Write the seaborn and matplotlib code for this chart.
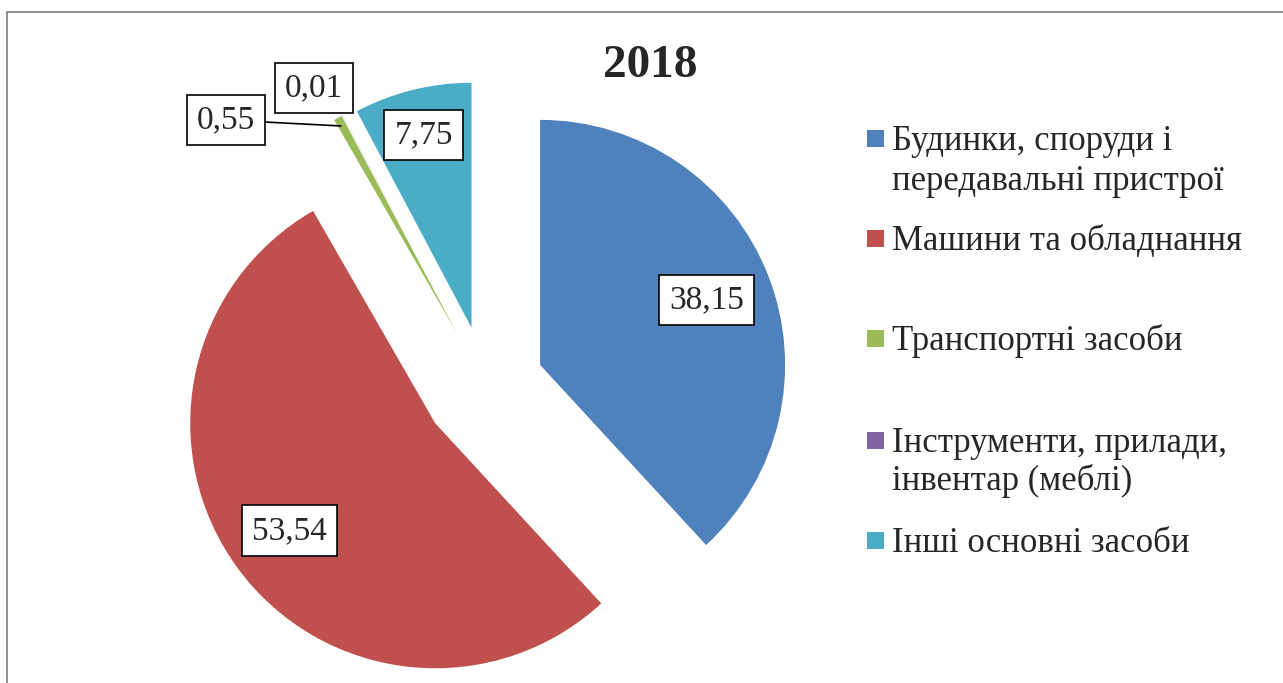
import matplotlib
matplotlib.use("Agg")
import matplotlib.pyplot as plt
from matplotlib.patches import Rectangle
import numpy as np
import seaborn as sns

# data
categories = [
    "Будинки, споруди і\nпередавальні пристрої",
    "Машини та обладнання",
    "Транспортні засоби",
    "Інструменти, прилади,\nінвентар (меблі)",
    "Інші основні засоби",
]
shares = [38.15, 53.54, 0.55, 0.01, 7.75]
value_labels = ["38,15", "53,54", "0,55", "0,01", "7,75"]
title = "2018"

colors = ["#4F81BD", "#C0504D", "#9BBB59", "#8064A2", "#4BACC6"]

sns.set_theme(style="white")
plt.rcParams["font.family"] = ["Liberation Serif", "DejaVu Serif"]

W, H = 1283, 683
fig = plt.figure(figsize=(W / 100, H / 100), dpi=100)
fig.patch.set_facecolor("white")
ax = fig.add_axes([0, 0, 1, 1])

# pixel-like data space, y pointing up
radius = 245
center = (486, H - 386)
explode = [r * radius for r in (0.237, 0.257, 0.25, 0.25, 0.245)]

wedges, _ = ax.pie(shares, colors=colors, startangle=90, counterclock=False,
                   radius=radius, center=center, explode=explode,
                   wedgeprops=dict(linewidth=0))

ax.set_xlim(0, W)
ax.set_ylim(0, H)
ax.set_aspect("equal")
ax.axis("off")

box = dict(boxstyle="square,pad=0.3", fc="white", ec="black", lw=1.2)


def wedge_point(w, frac):
    ang = np.deg2rad((w.theta1 + w.theta2) / 2)
    cx, cy = w.center
    return cx + frac * w.r * np.cos(ang), cy + frac * w.r * np.sin(ang)


# inside labels
for i, frac in [(0, 0.73), (1, 0.74), (4, 0.81)]:
    x, y = wedge_point(wedges[i], frac)
    ax.text(x, y, value_labels[i], ha="center", va="center", fontsize=24, bbox=box)

# small slices: labels outside
tip_x, tip_y = wedge_point(wedges[2], 1.0)
ax.annotate(value_labels[2], xy=(tip_x + 3, tip_y - 8), xytext=(226, H - 120),
            ha="center", va="center", fontsize=24, bbox=box,
            arrowprops=dict(arrowstyle="-", color="black", lw=1.2, shrinkA=0, shrinkB=0))
ax.text(314, H - 88, value_labels[3], ha="center", va="center", fontsize=24, bbox=box)

# title
ax.text(650, H - 77, title, ha="center", va="baseline", fontsize=34, fontweight="bold")

# legend, laid out like the original
baselines = [[150, 190], [250], [350], [452, 490], [552]]
for lab, col, ys in zip(categories, colors, baselines):
    ax.add_patch(Rectangle((867, H - ys[0] + 3), 17, 17, fc=col, ec="none"))
    for line, yb in zip(lab.split("\n"), ys):
        ax.text(892, H - yb, line, ha="left", va="baseline", fontsize=25)

# chart area border
ax.add_patch(Rectangle((7, -20), W + 20, H - 12 + 20, fill=False,
                       ec="#868686", lw=1.3, clip_on=False))

fig.savefig("out.png", dpi=100, facecolor="white")
